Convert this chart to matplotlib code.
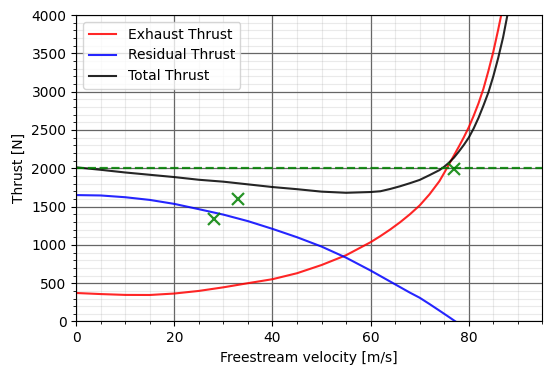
import numpy as np
import matplotlib
matplotlib.use("Agg")
import matplotlib.pyplot as plt
from matplotlib.ticker import MultipleLocator, AutoMinorLocator

# Freestream velocity samples [m/s]
velocity = [0, 5, 10, 15, 20, 25, 30, 35, 40, 45, 50, 55, 60, 62, 64, 66, 68,
            70, 72, 74, 75, 76, 77, 78, 79, 80, 81, 82, 83, 84, 85, 86, 87, 88]

# Thrust components [N]
exhaust_thrust = [372, 358, 347, 346, 365, 399, 446, 500, 552, 630, 737, 865,
                  1035, 1115, 1201, 1295, 1399, 1515, 1660, 1830, 1940, 2055,
                  2170, 2285, 2405, 2535, 2685, 2850, 3040, 3270, 3520, 3810,
                  4120, 4450]
residual_thrust = [1650, 1645, 1622, 1587, 1535, 1466, 1395, 1310, 1209, 1100,
                   978, 833, 665, 593, 521, 449, 377, 310, 228, 143, 100, 57,
                   13, -30, -75, -120, -170, -220, -260, -300, -330, -360,
                   -390, -420]
total_thrust = [2012, 1980, 1945, 1915, 1885, 1850, 1825, 1790, 1755, 1727,
                1695, 1680, 1690, 1700, 1730, 1765, 1805, 1848, 1910, 1975,
                2020, 2075, 2140, 2220, 2305, 2400, 2520, 2660, 2820, 2990,
                3200, 3440, 3710, 4040]

# Required thrust and measured points
required_thrust = 2000
measured_velocity = [28, 33, 77]
measured_thrust = [1335, 1595, 1990]

fig = plt.figure(figsize=(5.44, 3.67), dpi=100)
ax = fig.add_axes([0.140, 0.124, 0.857, 0.835])

ax.plot(velocity, exhaust_thrust, color="red", alpha=0.85, label="Exhaust Thrust")
ax.plot(velocity, residual_thrust, color="blue", alpha=0.85, label="Residual Thrust")
ax.plot(velocity, total_thrust, color="black", alpha=0.85, label="Total Thrust")
ax.axhline(required_thrust, color="green", alpha=0.85, linestyle="--", linewidth=1.6)
ax.plot(measured_velocity, measured_thrust, "x", color="green", alpha=0.85,
        markersize=9, markeredgewidth=1.6)

ax.set_xlim(0, 95)
ax.set_ylim(0, 4000)
ax.xaxis.set_major_locator(MultipleLocator(20))
ax.yaxis.set_major_locator(MultipleLocator(500))
ax.xaxis.set_minor_locator(AutoMinorLocator(4))
ax.yaxis.set_minor_locator(AutoMinorLocator(5))

ax.grid(which="major", color="#666666", linestyle="-", linewidth=0.9)
ax.grid(which="minor", color="#999999", linestyle="-", alpha=0.2)

ax.set_xlabel("Freestream velocity [m/s]")
ax.set_ylabel("Thrust [N]")
ax.legend(loc="upper left")

fig.savefig("out.png", dpi=100)
